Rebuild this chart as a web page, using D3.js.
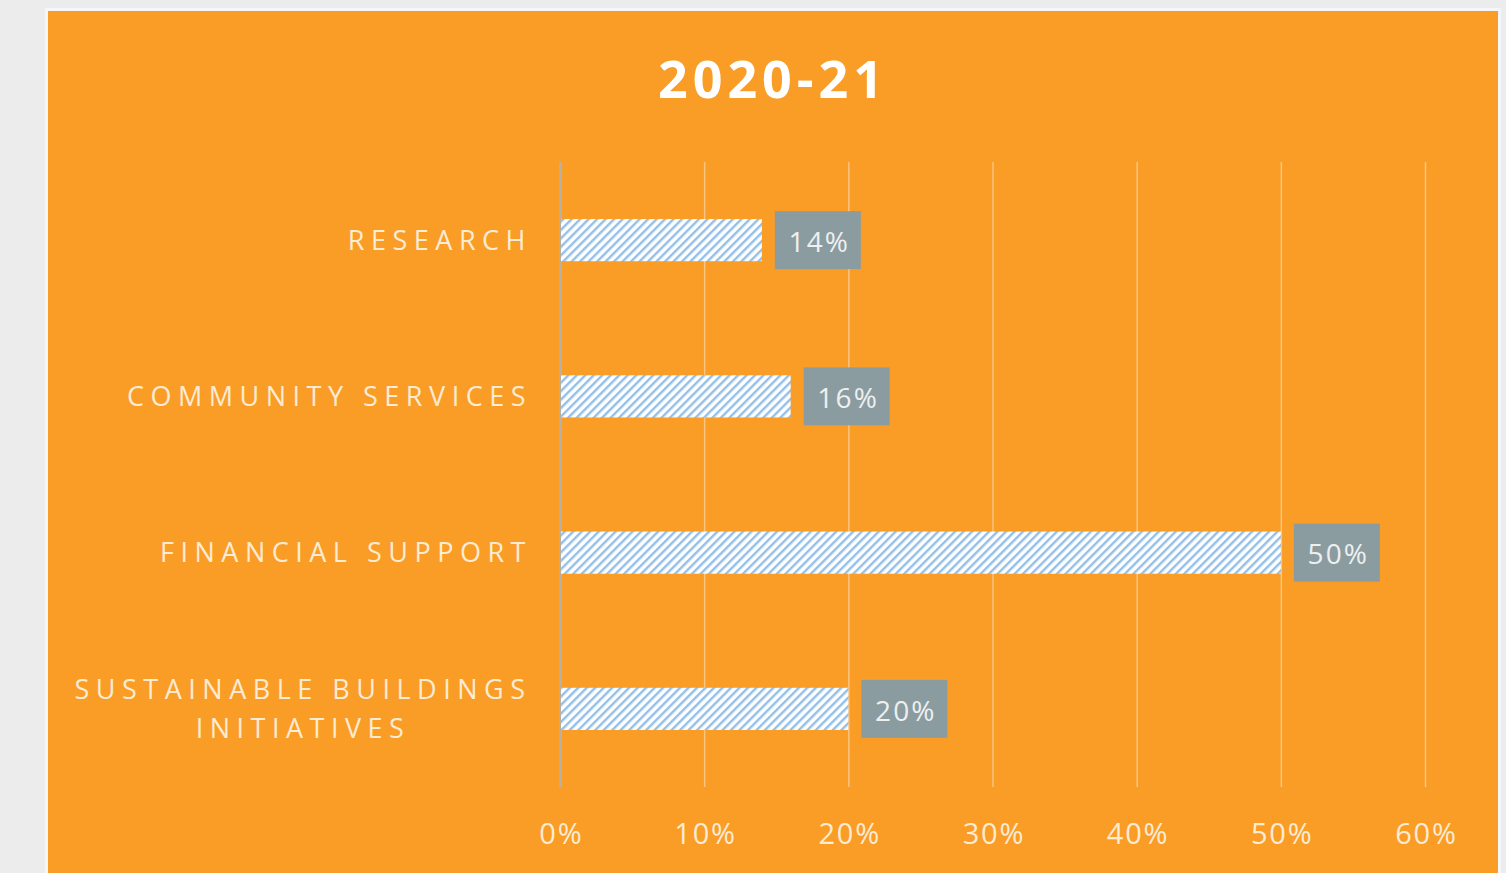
<!DOCTYPE html>
<html>
<head>
<meta charset="utf-8">
<script src="https://cdn.jsdelivr.net/npm/d3@7"></script>
<style>
  body { margin: 0; background: #ececec; }
  svg { display: block; }
  text { font-family: "Open Sans", "Noto Sans", sans-serif; }
</style>
</head>
<body>
<svg id="chart"></svg>
<script>
// chart data
const title = "2020-21"
const categories = ["RESEARCH", "COMMUNITY SERVICES", "FINANCIAL SUPPORT", "SUSTAINABLE BUILDINGS INITIATIVES"]
const shares = [0.14, 0.16, 0.50, 0.20]
const tickValues = [0, 0.1, 0.2, 0.3, 0.4, 0.5, 0.6]

const width = 1506
const height = 873

const dims = {
  left: 560,
  right: 1425,
  top: 162,
  bottom: 787,
}

const svg = d3.select("#chart")
  .attr("width", width)
  .attr("height", height)

// hatched fill like excel's wide upward diagonal
const defs = svg.append("defs")
const pat = defs.append("pattern")
  .attr("id", "hatch")
  .attr("patternUnits", "userSpaceOnUse")
  .attr("width", 6)
  .attr("height", 6)
  .attr("patternTransform", "rotate(45)")
pat.append("rect").attr("width", 6).attr("height", 6).attr("fill", "#ffffff")
pat.append("rect").attr("width", 2.4).attr("height", 6).attr("fill", "#93bfe8")

// orange panel
svg.append("rect")
  .attr("x", 45).attr("y", 8)
  .attr("width", 1456).attr("height", 880)
  .attr("fill", "#f4f6f9")
svg.append("rect")
  .attr("x", 48).attr("y", 11)
  .attr("width", 1450).attr("height", 880)
  .attr("fill", "#f99d27")

svg.append("text")
  .attr("x", 773).attr("y", 98)
  .attr("text-anchor", "middle")
  .attr("font-size", 52)
  .attr("font-weight", "bold")
  .attr("letter-spacing", 5)
  .attr("fill", "#ffffff")
  .text(title)

const x = d3.scaleLinear()
  .domain([0, 0.6])
  .range([dims.left, dims.right])

const y = d3.scaleBand()
  .domain(categories)
  .range([dims.top, dims.bottom])
  .paddingInner(0.73)
  .paddingOuter(0.365)

// gridlines + tick labels
const xAxis = svg.append("g")
  .attr("transform", "translate(0," + dims.bottom + ")")
  .call(d3.axisBottom(x)
    .tickValues(tickValues)
    .tickFormat(d3.format(".0%"))
    .tickSize(-(dims.bottom - dims.top))
    .tickPadding(34))
xAxis.select(".domain").remove()
xAxis.selectAll(".tick line")
  .attr("stroke", "#fcc57f")
  .attr("stroke-width", 1.5)
xAxis.selectAll(".tick text")
  .attr("font-size", 29)
  .attr("letter-spacing", 1.8)
  .attr("fill", "#fdebd3")
  .attr("dy", "0.32em")
  .attr("dx", 0.9)
  .attr("y", 48)

// vertical category axis line
svg.append("line")
  .attr("x1", x(0)).attr("x2", x(0))
  .attr("y1", dims.top).attr("y2", dims.bottom)
  .attr("stroke", "#b6b0a6")
  .attr("stroke-width", 2)

// category labels (wrap long ones)
const labels = svg.append("g")
categories.forEach(c => {
  const cy = y(c) + y.bandwidth() / 2
  let lines = [c]
  if (c.length > 22) {
    const words = c.split(" ")
    lines = [words.slice(0, 2).join(" "), words.slice(2).join(" ")]
  }
  const t = labels.append("text")
    .attr("font-size", 27)
    .attr("font-weight", 500)
    .attr("letter-spacing", 6.5)
    .attr("fill", "#fdebd3")
    .attr("text-anchor", lines.length > 1 ? "middle" : "end")
  lines.forEach((line, i) => {
    t.append("tspan")
      .attr("x", lines.length > 1 ? 303 : 532)
      .attr("y", cy + (i - (lines.length - 1) / 2) * 39)
      .attr("dy", "0.35em")
      .text(line)
  })
})

// bars
svg.selectAll(".bar")
  .data(shares)
  .enter()
  .append("rect")
    .attr("class", "bar")
    .attr("x", x(0) + 1)
    .attr("y", (d, i) => y(categories[i]))
    .attr("width", d => x(d) - x(0) - 1)
    .attr("height", y.bandwidth())
    .attr("fill", "url(#hatch)")

// data labels in grey boxes
const boxes = svg.selectAll(".dl")
  .data(shares)
  .enter()
  .append("g")
    .attr("class", "dl")
    .attr("transform", (d, i) => "translate(" + (x(d) + 13) + "," + (y(categories[i]) + y.bandwidth() / 2) + ")")
boxes.append("rect")
  .attr("x", 0).attr("y", -29)
  .attr("width", 86).attr("height", 58)
  .attr("fill", "#8b9ca1")
boxes.append("text")
  .attr("x", 44.5).attr("y", 2)
  .attr("dy", "0.35em")
  .attr("text-anchor", "middle")
  .attr("font-size", 28)
  .attr("letter-spacing", 2.2)
  .attr("fill", "#eef0f0")
  .text(d => d3.format(".0%")(d))
</script>
</body>
</html>
